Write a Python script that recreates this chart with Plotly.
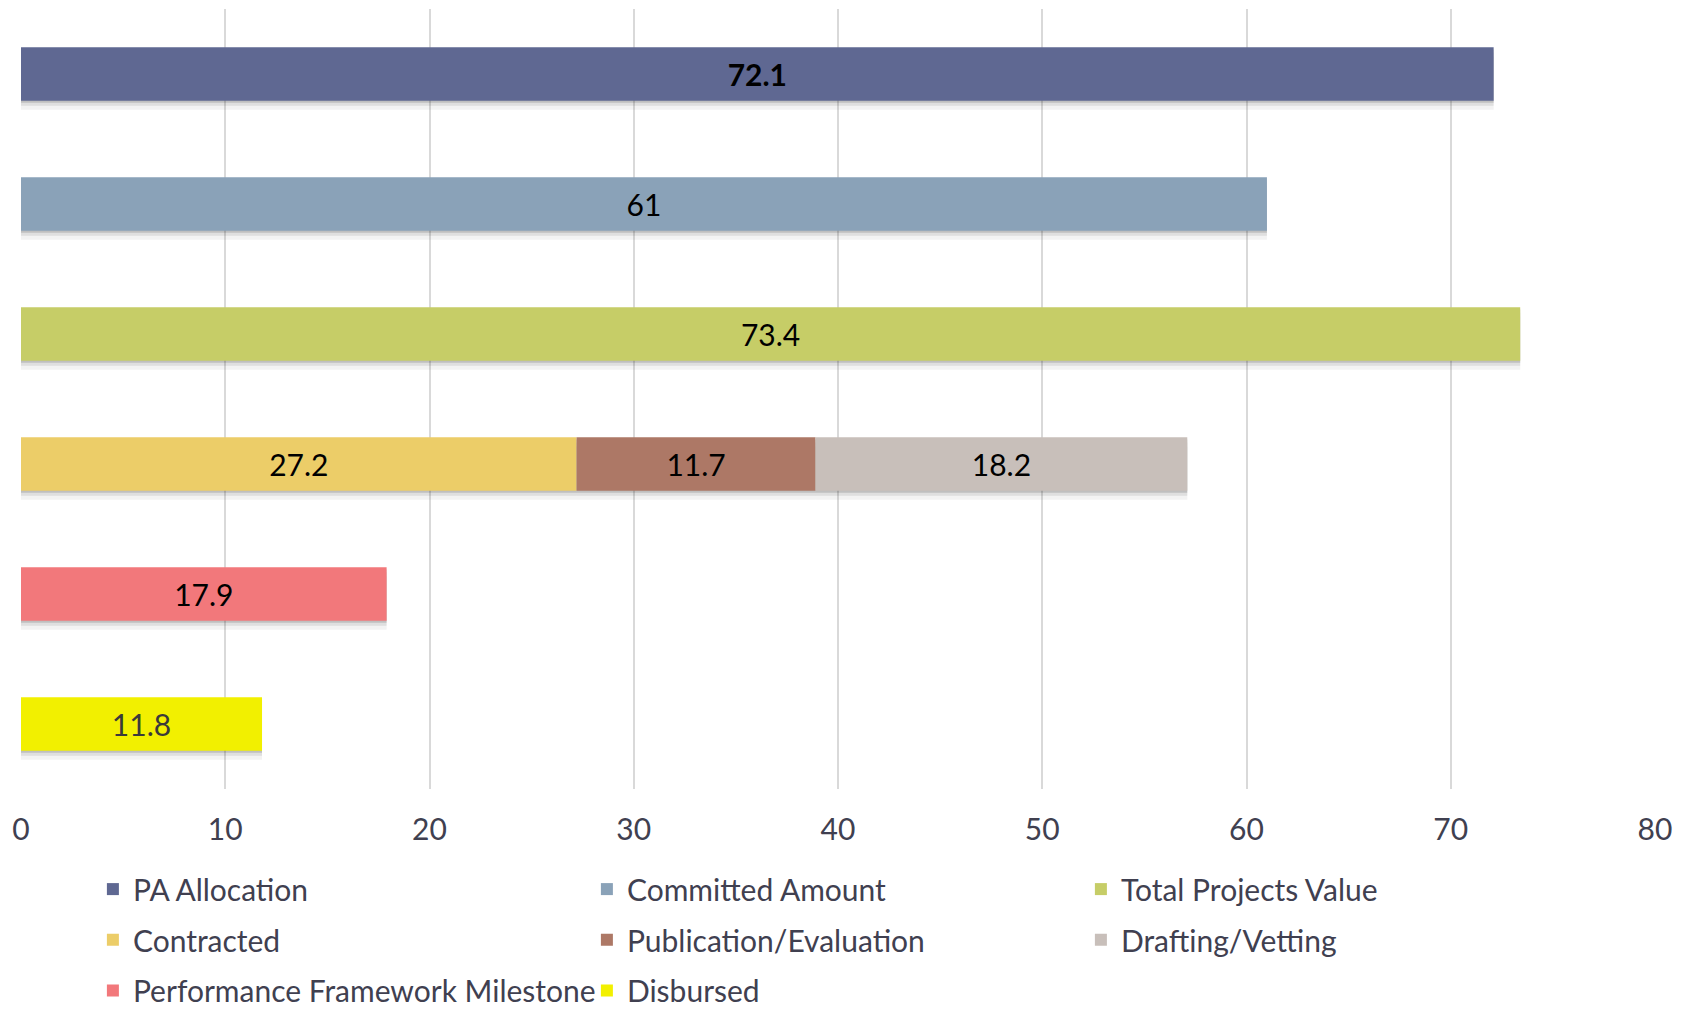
import plotly.graph_objects as go

categories = ["PA Allocation", "Committed Amount", "Total Projects Value",
              "Status", "Performance Framework Milestone", "Disbursed"]

series_names = ["PA Allocation", "Committed Amount", "Total Projects Value",
                "Contracted", "Publication/Evaluation", "Drafting/Vetting",
                "Performance Framework Milestone", "Disbursed"]
series_category = ["PA Allocation", "Committed Amount", "Total Projects Value",
                   "Status", "Status", "Status",
                   "Performance Framework Milestone", "Disbursed"]
series_values = [72.1, 61, 73.4, 27.2, 11.7, 18.2, 17.9, 11.8]
series_colors = ["#5f6892", "#8aa2b8", "#c6cd67", "#eccd68", "#ad7866",
                 "#c8bfba", "#f2787b", "#f2f000"]
label_bold = [True, False, False, False, False, False, False, False]
label_colors = ["#000000"] * 7 + ["#3a3a3a"]
legend_rows = ["legend", "legend", "legend", "legend2", "legend2", "legend2",
               "legend3", "legend3"]

x_ticks = [0, 10, 20, 30, 40, 50, 60, 70, 80]

FONT = "Lato"
BAR_W = 0.41

# stacked bases computed from the data (bars sharing a category stack)
bases = []
running = {}
for cat, val in zip(series_category, series_values):
    b = running.get(cat, 0.0)
    bases.append(b)
    running[cat] = b + val

fig = go.Figure()

# soft drop shadows (same data, drawn slightly lower, underneath)
for shift, alpha in [(0.07, 0.06), (0.04, 0.10), (0.016, 0.18)]:
    fig.add_trace(go.Bar(
        y=series_category, x=series_values, base=bases, orientation="h",
        width=BAR_W, offset=-BAR_W / 2 + shift,
        marker=dict(color=f"rgba(50,50,50,{alpha})", line=dict(width=0)),
        showlegend=False, hoverinfo="skip",
    ))

for name, cat, val, b, col, bold, lc, lg in zip(series_names, series_category,
                                                series_values, bases, series_colors,
                                                label_bold, label_colors, legend_rows):
    fig.add_trace(go.Bar(
        name=name, y=[cat], x=[val], base=[b], orientation="h",
        width=BAR_W, offset=-BAR_W / 2,
        marker=dict(color=col, line=dict(width=0)),
        text=[f"<b>{val:g}</b>" if bold else f"{val:g}"],
        textposition="inside", insidetextanchor="middle",
        textfont=dict(family=FONT, size=30, color=lc),
        constraintext="none", legend=lg,
    ))

legend_common = dict(orientation="h", x=0.044, xanchor="left", yanchor="top",
                     entrywidth=449, entrywidthmode="pixels",
                     font=dict(family=FONT, size=30, color="#404050"),
                     itemwidth=30, traceorder="normal",
                     bgcolor="rgba(0,0,0,0)")

fig.update_layout(
    barmode="overlay",
    width=1675, height=1001,
    margin=dict(l=13, r=28, t=1, b=220, autoexpand=False),
    plot_bgcolor="white", paper_bgcolor="white",
    font=dict(family=FONT, size=30, color="#404050"),
    xaxis=dict(range=[0, 80], tickvals=x_ticks, showgrid=True,
               gridcolor="#d9d9d9", gridwidth=1.5, zeroline=False,
               ticks="", showline=False,
               tickfont=dict(family=FONT, size=30, color="#404050"),
               ticklabelstandoff=20),
    yaxis=dict(categoryorder="array", categoryarray=categories,
               range=[len(categories) - 0.5, -0.5],
               showticklabels=False, showgrid=False,
               zeroline=False, showline=False),
    legend=dict(legend_common, y=-0.095),
    legend2=dict(legend_common, y=-0.16),
    legend3=dict(legend_common, y=-0.225),
)

fig.write_html("out.html")
